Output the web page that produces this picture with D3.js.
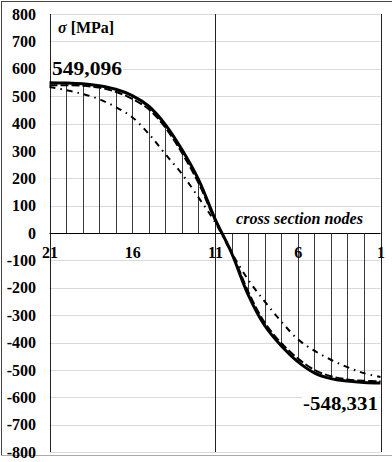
<!DOCTYPE html>
<html>
<head>
<meta charset="utf-8">
<script src="https://cdn.jsdelivr.net/npm/d3@7"></script>
<style>
  html, body { margin: 0; padding: 0; background: #fff; }
  svg { display: block; }
  svg text { font-family: "Liberation Serif", "Times New Roman", "DejaVu Serif", serif; font-weight: bold; fill: #000; }
</style>
</head>
<body>
<svg id="chart" width="392" height="462"></svg>
<script>
// Cross-section nodes, left to right as they appear on the axis
const nodes = [21, 20, 19, 18, 17, 16, 15, 14, 13, 12, 11, 10, 9, 8, 7, 6, 5, 4, 3, 2, 1];
const nodeTicks = [21, 16, 11, 6, 1];
const stressTicks = [800, 700, 600, 500, 400, 300, 200, 100, 0, -100, -200, -300, -400, -500, -600, -700, -800];

// Normal stress σ [MPa] per node for the three solutions
const sigmaSolid = [549.096, 548, 545, 538, 525, 502, 463, 396, 305, 196, 52, -73, -225, -338, -412, -470, -511, -532, -541, -546, -548.331];
const sigmaDashed = [540, 540, 538, 531, 516, 490, 452, 385, 293, 183, 48, -68, -213, -327, -402, -458, -500, -523, -535, -540, -542];
const sigmaDashDot = [533, 522, 508, 489, 460, 423, 362, 288, 216, 130, 40, -72, -170, -250, -323, -388, -430, -463, -490, -512, -526];

const maxLabel = "549,096";
const minLabel = "-548,331";

const serif = '"Liberation Serif", "Times New Roman", "DejaVu Serif", serif';

const svg = d3.select("#chart");

const x = d3.scalePoint().domain(nodes).range([49.5, 380.5]);
const y = d3.scaleLinear().domain([-800, 800]).range([452, 14]);

// chart frame
svg.append("line").attr("x1", 1.5).attr("x2", 1.5).attr("y1", 1).attr("y2", 456)
  .attr("stroke", "#444").attr("stroke-width", 1);
svg.append("line").attr("x1", 1).attr("x2", 392).attr("y1", 1.5).attr("y2", 1.5)
  .attr("stroke", "#444").attr("stroke-width", 1);
svg.append("line").attr("x1", 1).attr("x2", 392).attr("y1", 455.5).attr("y2", 455.5)
  .attr("stroke", "#aaa").attr("stroke-width", 1);

// horizontal gridlines
svg.append("g").selectAll("line")
  .data(stressTicks.filter(d => d !== 0))
  .join("line")
  .attr("x1", x(21)).attr("x2", x(1))
  .attr("y1", d => Math.round(y(d)) + 0.5).attr("y2", d => Math.round(y(d)) + 0.5)
  .attr("stroke", "#d9d9d9").attr("stroke-width", 1);

// hatch lines from zero to the stress value at each node
svg.append("g").selectAll("line")
  .data(nodes.map((n, i) => ({ n, v: sigmaSolid[i] })).filter(d => d.n !== 21 && d.n !== 11 && d.n !== 1))
  .join("line")
  .attr("x1", d => Math.round(x(d.n)) + 0.5).attr("x2", d => Math.round(x(d.n)) + 0.5)
  .attr("y1", y(0)).attr("y2", d => y(d.v))
  .attr("stroke", "#3a3a3a").attr("stroke-width", 1);

// full-height verticals: left axis, section middle, right edge
svg.append("g").selectAll("line")
  .data([21, 11, 1])
  .join("line")
  .attr("x1", d => Math.round(x(d)) + 0.5).attr("x2", d => Math.round(x(d)) + 0.5)
  .attr("y1", y(800)).attr("y2", y(-800))
  .attr("stroke", "#222").attr("stroke-width", 1);

// zero line
svg.append("line")
  .attr("x1", x(21)).attr("x2", x(1))
  .attr("y1", Math.round(y(0)) + 0.5).attr("y2", Math.round(y(0)) + 0.5)
  .attr("stroke", "#000").attr("stroke-width", 1);

// stress curves
const line = d3.line()
  .x(d => x(d[0]))
  .y(d => y(d[1]))
  .curve(d3.curveCatmullRom.alpha(0.5));

const series = [
  { values: sigmaDashDot, width: 2, dash: "6,5,1.5,5" },
  { values: sigmaDashed, width: 2, dash: "8,3" },
  { values: sigmaSolid, width: 3, dash: null }
];

svg.append("g").selectAll("path")
  .data(series)
  .join("path")
  .attr("d", s => line(nodes.map((n, i) => [n, s.values[i]])))
  .attr("fill", "none")
  .attr("stroke", "#000")
  .attr("stroke-width", s => s.width)
  .attr("stroke-dasharray", s => s.dash);

// y axis labels
const yAxis = d3.axisLeft(y)
  .tickValues(stressTicks)
  .tickSize(0)
  .tickPadding(0)
  .tickFormat(d => String(d));
const gy = svg.append("g").attr("transform", "translate(36,0)").call(yAxis);
gy.attr("font-family", serif).attr("font-size", 16);
gy.select(".domain").remove();
gy.selectAll("text").style("font-size", "16px").style("font-family", serif).style("font-weight", "bold");

// x axis labels below the zero line
const xAxis = d3.axisBottom(x)
  .tickValues(nodeTicks)
  .tickSize(0)
  .tickPadding(14);
const gx = svg.append("g").attr("transform", `translate(0,${y(0)})`).call(xAxis);
gx.attr("font-family", serif).attr("font-size", 16);
gx.select(".domain").remove();
gx.selectAll("text").style("font-size", "16px").style("font-family", serif).style("font-weight", "bold");

// axis title
const title = svg.append("text").attr("x", 58).attr("y", 33)
  .style("font-size", "16px").style("font-family", serif);
title.append("tspan").style("font-style", "italic").text("σ");
title.append("tspan").text(" [MPa]");

// value labels for extremes
function valueLabel(text, xPos, baseline, size, width) {
  const g = svg.append("g");
  g.append("rect")
    .attr("x", xPos - 1).attr("y", baseline - size * 0.72)
    .attr("width", width + 2).attr("height", size * 0.8)
    .attr("fill", "#fff");
  g.append("text")
    .attr("x", xPos).attr("y", baseline)
    .attr("textLength", width).attr("lengthAdjust", "spacingAndGlyphs")
    .style("font-size", size + "px").style("font-family", serif)
    .text(text);
}
valueLabel(maxLabel, 52, 75, 19, 70);
valueLabel(minLabel, 303, 410, 19, 75);

// x axis caption
svg.append("text")
  .attr("x", 236).attr("y", 224)
  .attr("textLength", 127).attr("lengthAdjust", "spacingAndGlyphs")
  .style("font-size", "16px").style("font-style", "italic").style("font-family", serif)
  .text("cross section nodes");
</script>
</body>
</html>
